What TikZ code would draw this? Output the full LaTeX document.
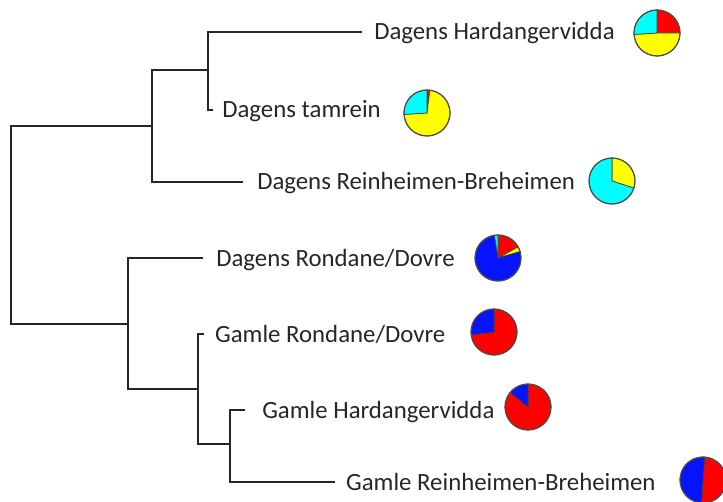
\documentclass[tikz,border=0pt]{standalone}
\usepackage{fontspec}
\setmainfont{Carlito}
\usetikzlibrary{positioning,calc}
\definecolor{pieRed}{RGB}{255,0,0}
\definecolor{pieYellow}{RGB}{255,255,0}
\definecolor{pieCyan}{RGB}{0,255,255}
\definecolor{pieBlue}{RGB}{5,20,252}
\definecolor{labelgray}{RGB}{38,38,38}

\tikzset{
  branch/.style={line width=1.1pt, black!85},
  leaflabel/.style={inner sep=0pt, text=labelgray, font=\fontsize{18.6}{21}\selectfont,
    text height=12pt, text depth=0pt, anchor=west},
  slice/.style={draw=black!75, line width=0.5pt},
  pierim/.style={draw=black!70, line width=0.9pt}
}

% pie chart: name, centre, start offset (deg), list of percent/colour
\newcommand{\piechart}[4]{%
  \coordinate (#1) at #2;
  \xdef\pieacc{#3}
  \foreach \pct/\col in {#4} {
    \pgfmathsetmacro\pieend{\pieacc+3.6*\pct}
    \filldraw[slice, fill=\col] (#1) -- ++(\pieacc-90:23)
      arc[start angle=\pieacc-90, end angle=\pieend-90, radius=23] -- cycle;
    \global\let\pieacc\pieend
  }
  \draw[pierim] (#1) circle[radius=23];
}

\begin{document}
\begin{tikzpicture}[x=0.75pt, y=-0.75pt]
  \useasboundingbox (0,0) rectangle (723,502);

  % Leaf ends
  \coordinate (hvEnd) at (362,32);
  \coordinate (tamEnd) at (213,110);
  \coordinate (rbEnd) at (243,182);
  \coordinate (drEnd) at (203,258);
  \coordinate (grEnd) at (204,334);
  \coordinate (ghEnd) at (245,410);
  \coordinate (grbEnd) at (335,482);

  % Inner nodes
  \coordinate (nDH) at (208,70);
  \coordinate (nD) at (152,126);
  \coordinate (root) at (11,225);
  \coordinate (nG) at (128,324);
  \coordinate (nG2) at (198,389);
  \coordinate (nG3) at (230,444);

  % Labels
  \node[leaflabel, right=9pt of hvEnd] (hvL) {Dagens Hardangervidda};
  \node[leaflabel, right=6.8pt of tamEnd] (tamL) {Dagens tamrein};
  \node[leaflabel, right=10.5pt of rbEnd] (rbL) {Dagens Reinheimen-Breheimen};
  \node[leaflabel, right=9.8pt of drEnd] (drL) {Dagens Rondane/Dovre};
  \node[leaflabel, right=8.2pt of grEnd] (grL) {Gamle Rondane/Dovre};
  \node[leaflabel, right=12.8pt of ghEnd] (ghL) {Gamle Hardangervidda};
  \node[leaflabel, right=8.2pt of grbEnd] (grbL) {Gamle Reinheimen-Breheimen};

  % Branches
  \draw[branch] (hvEnd) -| (nDH) |- (tamEnd);
  \draw[branch] (nDH) -| (nD) |- (rbEnd);
  \draw[branch] (nD) -| (root) |- (nG);
  \draw[branch] (drEnd) -| (nG) |- (nG2);
  \draw[branch] (grEnd) -| (nG2) |- (nG3);
  \draw[branch] (ghEnd) -| (nG3) |- (grbEnd);

  % Pies
  \piechart{hvP}{(657,33)}{0}{25/pieRed, 49/pieYellow, 26/pieCyan}
  \piechart{tamP}{(427,113)}{0}{2/pieRed, 72/pieYellow, 26/pieCyan}
  \piechart{rbP}{(612,181)}{0}{30/pieYellow, 70/pieCyan}
  \piechart{drP}{(498,258)}{0}{17/pieRed, 3.5/pieYellow, 77/pieBlue, 2.5/pieCyan}
  \piechart{grP}{(494,332)}{0}{73/pieRed, 27/pieBlue}
  \piechart{ghP}{(528,407)}{0}{86/pieRed, 14/pieBlue}
  \piechart{grbP}{(703,480)}{4}{50/pieRed, 50/pieBlue}
\end{tikzpicture}
\end{document}
